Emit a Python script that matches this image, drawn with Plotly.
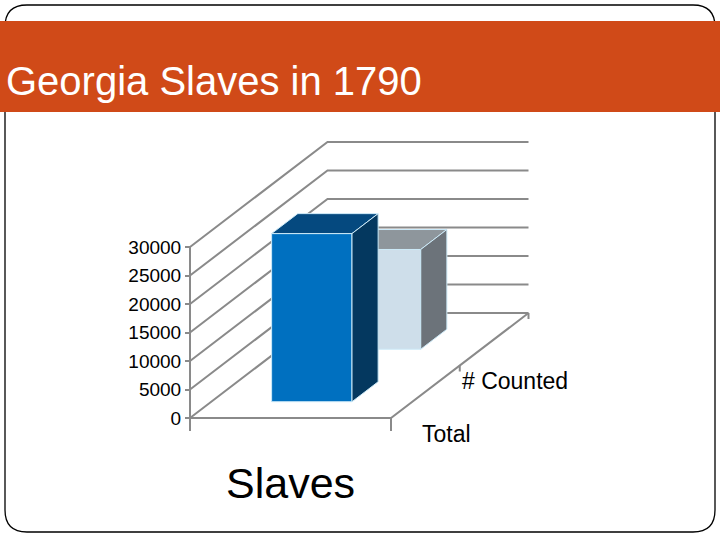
import plotly.graph_objects as go

# ---------------- data ----------------
categories = ["Slaves"]
series_names = ["Total", "# Counted"]
total_values = [29500]
counted_values = [17500]
value_ticks = [0, 5000, 10000, 15000, 20000, 25000, 30000]
title_text = "Georgia Slaves in 1790"

series_values = [total_values, counted_values]

# ---------------- styles ----------------
front_colors = ["#0070C0", "#CEDEEA"]
top_colors = ["#05497F", "#8E969C"]
side_colors = ["#04385F", "#6C737A"]
edge_color = "#CDEAF8"
grid_color = "#8A8A8A"
band_color = "#D04A18"
FONT = "Liberation Sans, Arial, sans-serif"

# ---------------- geometry (oblique 3D projection) ----------------
W, H = 720, 540
M_T, M_B = 133, 65
Y_MIN, Y_MAX = -10000, 50000
PLOT_H = H - M_T - M_B
PX = PLOT_H / (Y_MAX - Y_MIN)          # pixels per value unit
CAT_PX = 201.0                          # pixel width of one category
CAT0_PX = 290.5                         # pixel x of first category centre
X_MIN = -CAT0_PX / CAT_PX
X_MAX = (W - CAT0_PX) / CAT_PX

DEPTH_DX = 137.5 / CAT_PX               # x shift for full depth
DEPTH_DY = 105.0 / PX                   # value shift for full depth
BAR_HALF = 0.2
BAR_DEPTH = 0.19
n_series = len(series_names)
n_cat = len(categories)


def proj(x, v, d):
    return (x + d * DEPTH_DX, v + d * DEPTH_DY)


def px_val(p):
    return p / PX


fig = go.Figure()

# ---------------- walls, floor, axis lines ----------------
gx, gy = [], []


def add_poly(pts):
    for p in pts:
        gx.append(p[0])
        gy.append(p[1])
    gx.append(None)
    gy.append(None)


left = -0.5
right = n_cat - 0.5
for v in value_ticks:
    add_poly([proj(left, v, 0), proj(left, v, 1), proj(right, v, 1)])
# vertical value axis (with category-boundary tick below)
add_poly([proj(left, -px_val(13), 0), proj(left, max(value_ticks), 0)])
# floor front and right edge
add_poly([proj(left, 0, 0), proj(right, 0, 0), proj(right, 0, 1)])
for k in range(1, n_cat + 1):
    xb = k - 0.5
    add_poly([proj(xb, 0, 0), proj(xb, -px_val(13), 0)])
for s in range(1, n_series + 1):
    d = s / n_series
    x0, y0 = proj(right, 0, d)
    add_poly([(x0, y0), (x0, y0 - px_val(6))])

fig.add_trace(go.Scatter(x=gx, y=gy, mode="lines",
                         line=dict(color=grid_color, width=2),
                         hoverinfo="skip", showlegend=False))

# ---------------- bars (back to front) ----------------
for i in reversed(range(n_series)):
    dc = (i + 0.5) / n_series
    d0 = dc - BAR_DEPTH / 2
    d1 = dc + BAR_DEPTH / 2
    for j, cat in enumerate(categories):
        V = series_values[i][j]
        xc = j
        w = BAR_HALF
        faces = [
            ([proj(xc - w, 0, d0), proj(xc + w, 0, d0), proj(xc + w, V, d0), proj(xc - w, V, d0)], front_colors[i]),
            ([proj(xc - w, V, d0), proj(xc + w, V, d0), proj(xc + w, V, d1), proj(xc - w, V, d1)], top_colors[i]),
            ([proj(xc + w, 0, d0), proj(xc + w, 0, d1), proj(xc + w, V, d1), proj(xc + w, V, d0)], side_colors[i]),
        ]
        for pts, col in faces:
            xs = [p[0] for p in pts] + [pts[0][0]]
            ys = [p[1] for p in pts] + [pts[0][1]]
            fig.add_trace(go.Scatter(
                x=xs, y=ys, mode="lines", fill="toself", fillcolor=col,
                line=dict(color=edge_color, width=1),
                name=series_names[i], text=f"{series_names[i]}: {V}",
                hoverinfo="text", showlegend=False))

# ---------------- labels ----------------
annotations = []
for i, name in enumerate(series_names):
    d = (i + 0.5) / n_series
    x0, y0 = proj(right, 0, d)
    annotations.append(dict(x=x0, y=y0, xref="x", yref="y", text=name,
                            showarrow=False, xanchor="center", yanchor="middle",
                            xshift=21, yshift=-42,
                            font=dict(family=FONT, size=23, color="black")))
for j, cat in enumerate(categories):
    x0, y0 = proj(j, 0, 0)
    annotations.append(dict(x=x0, y=y0, xref="x", yref="y", text=cat,
                            showarrow=False, xanchor="center", yanchor="middle",
                            yshift=-65,
                            font=dict(family=FONT, size=43, color="black")))


def pxx(p):
    return p / W


def pxy(p):
    return (H - M_B - p) / PLOT_H


annotations.append(dict(x=pxx(4), y=pxy(81), xref="paper", yref="paper",
                        text=title_text, showarrow=False,
                        xanchor="left", yanchor="middle",
                        font=dict(family=FONT, size=40, color="white")))

# ---------------- slide frame and title band ----------------
r = 22
x1, y1, x2, y2 = 5, 5, 715, 532
border_path = (
    f"M {pxx(x1 + r)},{pxy(y1)} L {pxx(x2 - r)},{pxy(y1)} "
    f"Q {pxx(x2)},{pxy(y1)} {pxx(x2)},{pxy(y1 + r)} "
    f"L {pxx(x2)},{pxy(y2 - r)} Q {pxx(x2)},{pxy(y2)} {pxx(x2 - r)},{pxy(y2)} "
    f"L {pxx(x1 + r)},{pxy(y2)} Q {pxx(x1)},{pxy(y2)} {pxx(x1)},{pxy(y2 - r)} "
    f"L {pxx(x1)},{pxy(y1 + r)} Q {pxx(x1)},{pxy(y1)} {pxx(x1 + r)},{pxy(y1)} Z"
)
shapes = [
    dict(type="path", xref="paper", yref="paper", path=border_path,
         line=dict(color="black", width=1.3), layer="below"),
    dict(type="rect", xref="paper", yref="paper",
         x0=pxx(0), x1=pxx(720), y0=pxy(21), y1=pxy(112),
         fillcolor=band_color, line=dict(width=0), layer="above"),
]

fig.update_layout(
    width=W, height=H,
    margin=dict(l=0, r=0, t=M_T, b=M_B, pad=0),
    paper_bgcolor="white", plot_bgcolor="rgba(0,0,0,0)",
    showlegend=False,
    xaxis=dict(range=[X_MIN, X_MAX], visible=False, fixedrange=True),
    yaxis=dict(range=[Y_MIN, Y_MAX], anchor="free",
               position=(CAT0_PX - 0.5 * CAT_PX) / W,
               tickvals=value_ticks, tickformat="d",
               ticks="outside", ticklen=5, tickwidth=2, tickcolor=grid_color,
               showgrid=False, zeroline=False, showline=False,
               tickfont=dict(family=FONT, size=19, color="black"),
               fixedrange=True),
    annotations=annotations,
    shapes=shapes,
)

fig.write_html(
    "out.html",
    config={"displayModeBar": False},
    post_script="document.body.style.margin='0';document.body.style.overflow='hidden';",
)
